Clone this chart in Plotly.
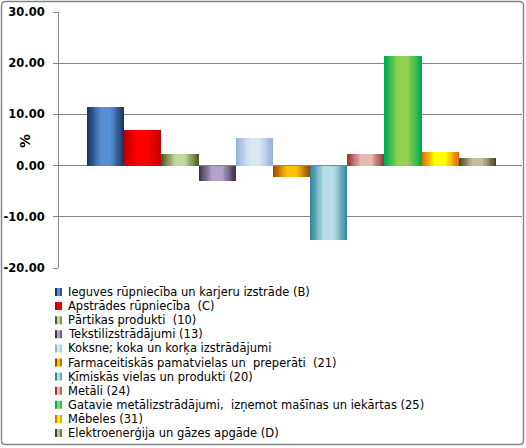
import plotly.graph_objects as go

# ---- data ----
categories = [
    "Ieguves rūpniecība un karjeru izstrāde (B)",
    "Apstrādes rūpniecība  (C)",
    "Pārtikas produkti  (10)",
    "Tekstilizstrādājumi (13)",
    "Koksne; koka un korķa izstrādājumi",
    "Farmaceitiskās pamatvielas un  preperāti  (21)",
    "Ķīmiskās vielas un produkti (20)",
    "Metāli (24)",
    "Gatavie metālizstrādājumi,  izņemot mašīnas un iekārtas (25)",
    "Mēbeles (31)",
    "Elektroenerģija un gāzes apgāde (D)",
]
values = [11.4, 6.9, 2.3, -3.1, 5.4, -2.3, -14.5, 2.3, 21.5, 2.7, 1.5]
y_ticks = [30, 20, 10, 0, -10, -20]
y_title = "%"

# ---- style ----
edge_colors = ["#1b3259", "#c00000", "#4f6228", "#3f3151", "#95b3d7", "#984807",
               "#31859c", "#953735", "#00b050", "#e36c09", "#494429"]
center_colors = ["#558ed5", "#ff0000", "#c3d69b", "#b3a2c7", "#dbe5f1", "#ffc000",
                 "#b7dee8", "#e6b9b8", "#92d050", "#ffff00", "#c4bd97"]

W, H = 526, 448
ML, MR, MT, MB = 59, 4, 12, 180
PW, PH = W - ML - MR, H - MT - MB


def hex2rgb(h):
    h = h.lstrip("#")
    return tuple(int(h[i:i + 2], 16) for i in (0, 2, 4))


def mix(c1, c2, t):
    a, b = hex2rgb(c1), hex2rgb(c2)
    return "rgb(%d,%d,%d)" % tuple(round(a[i] + (b[i] - a[i]) * t) for i in range(3))


fig = go.Figure()
NB = 16
for i, (name, v) in enumerate(zip(categories, values)):
    for k in range(NB):
        w = 1.0 - k / NB
        s = min(1.0, max(0.0, (1.0 - w) / 0.7))
        fig.add_trace(go.Bar(
            x=[i], y=[v], width=w, name=name,
            marker=dict(color=mix(edge_colors[i], center_colors[i], s), line=dict(width=0)),
            showlegend=False, hoverinfo="skip",
        ))

# x range: bar group spanning from px 87 to 496 within plot 59..522
left_px, right_px = 87 - ML, 496 - ML
k = (right_px - left_px) / len(values)
xmin = -0.5 - left_px / k
xmax = xmin + PW / k


def px_x(px):
    return (px - ML) / PW


def px_y(py):
    return (H - py - MB) / PH


annotations = []
shapes = []

# y title
annotations.append(dict(text=y_title, x=px_x(15), y=px_y(141), xref="paper", yref="paper",
                        showarrow=False, textangle=-90,
                        font=dict(family="DejaVu Sans", size=14, color="black", weight="bold")))

# legend (manual)
row0, dy = 292, 14.1
for i, name in enumerate(categories):
    yc = row0 + i * dy
    x0 = 55
    stripes = [(0, 2, edge_colors[i]), (2, 5, center_colors[i]), (5, 7, mix(edge_colors[i], center_colors[i], 0.4))]
    for a, b, c in stripes:
        shapes.append(dict(type="rect", xref="paper", yref="paper",
                           x0=px_x(x0 + a), x1=px_x(x0 + b), y0=px_y(yc + 4), y1=px_y(yc - 4),
                           fillcolor=c, line=dict(width=0), layer="above"))
    annotations.append(dict(text=name.replace("  ", "&nbsp; "), x=px_x(66), y=px_y(yc), xref="paper", yref="paper",
                            xanchor="left", yanchor="middle", showarrow=False,
                            font=dict(family="DejaVu Sans", size=11.5, color="black")))

# outer border with rounded corners
bx0, bx1, by0, by1 = 1.5, 523.5, 1.5, 444.5
r = 4
X = px_x
Y = px_y
path = (f"M {X(bx0 + r)},{Y(by0)} L {X(bx1 - r)},{Y(by0)} Q {X(bx1)},{Y(by0)} {X(bx1)},{Y(by0 + r)} "
        f"L {X(bx1)},{Y(by1 - r)} Q {X(bx1)},{Y(by1)} {X(bx1 - r)},{Y(by1)} "
        f"L {X(bx0 + r)},{Y(by1)} Q {X(bx0)},{Y(by1)} {X(bx0)},{Y(by1 - r)} "
        f"L {X(bx0)},{Y(by0 + r)} Q {X(bx0)},{Y(by0)} {X(bx0 + r)},{Y(by0)} Z")
shapes.append(dict(type="path", path=path, xref="paper", yref="paper",
                   line=dict(color="#868686", width=1.5), layer="above"))

fig.update_layout(
    width=W, height=H,
    margin=dict(l=ML, r=MR, t=MT, b=MB, pad=0),
    paper_bgcolor="white", plot_bgcolor="white",
    barmode="overlay", bargap=0,
    showlegend=False,
    xaxis=dict(visible=False, range=[xmin, xmax], fixedrange=True),
    yaxis=dict(range=[-20, 30], tickvals=y_ticks, ticktext=["%.2f" % t for t in y_ticks],
               showgrid=True, gridcolor="#868686", gridwidth=1,
               zeroline=False, showline=True, linecolor="#868686", linewidth=1,
               ticks="outside", ticklen=5, tickcolor="#868686",
               tickfont=dict(family="DejaVu Sans", size=11.5, color="black", weight="bold"),
               ticklabelstandoff=6),
    annotations=annotations,
    shapes=shapes,
)

fig.write_html("out.html")
